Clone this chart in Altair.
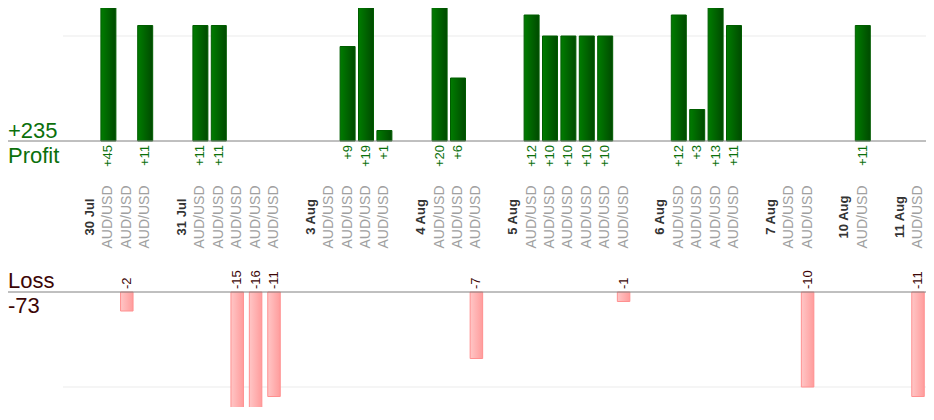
import altair as alt
import pandas as pd

# ---- data ----
days = ["30 Jul", "31 Jul", "3 Aug", "4 Aug", "5 Aug", "6 Aug", "7 Aug", "10 Aug", "11 Aug"]
day_results = [
    [45, -2, 11],
    [11, 11, -15, -16, -11],
    [0, 9, 19, 1],
    [20, 6, -7],
    [12, 10, 10, 10, 10, -1],
    [12, 3, 13, 11],
    [0, -10],
    [11],
    [-11],
]
symbol = "AUD/USD"
profit_title = "Profit"
loss_title = "Loss"

# ---- build slot table (date slot, trade slots, gap slot) ----
rows = []
for d, (day, res) in enumerate(zip(days, day_results)):
    rows.append(dict(label=day, kind="date", result=None))
    for r in res:
        rows.append(dict(label=symbol, kind="trade", result=r))
    if d < len(days) - 1:
        rows.append(dict(label="", kind="gap", result=None))
df = pd.DataFrame(rows)
df["slot"] = [f"s{i:02d}" for i in range(len(df))]
slots = list(df["slot"])

trades = df[df["kind"] == "trade"].copy()
trades["result"] = trades["result"].astype(int)
profit_df = trades[trades["result"] > 0].copy()
profit_df["txt"] = ["+" + str(v) for v in profit_df["result"]]
loss_df = trades[trades["result"] < 0].copy()
loss_df["txt"] = ["-" + str(-v) for v in loss_df["result"]]
date_df = df[df["kind"] == "date"]
sym_df = df[df["kind"] == "trade"]

profit_total = int(profit_df["result"].sum())
loss_total = int(loss_df["result"].sum())

FONT = "Liberation Sans"
GREEN_TXT = "#0b700b"
LOSS_TXT = "#3c0606"
W, H = 918, 399

x_scale = alt.Scale(domain=slots, range=[72.8, 919.2], paddingInner=0, paddingOuter=0)
profit_scale = alt.Scale(domain=[0, 10], range=[133, 28])
loss_scale = alt.Scale(domain=[-10, 0], range=[379, 284])


def X():
    return alt.X("slot:N", scale=x_scale, axis=None)


green_grad = alt.Gradient(
    gradient="linear",
    stops=[alt.GradientStop(color="#007c00", offset=0),
           alt.GradientStop(color="#004a00", offset=1)],
    x1=0, x2=1, y1=0, y2=0,
)
pink_grad = alt.Gradient(
    gradient="linear",
    stops=[alt.GradientStop(color="#ffc6c6", offset=0),
           alt.GradientStop(color="#ff9c9c", offset=1)],
    x1=0, x2=1, y1=0, y2=0,
)

grid_p = alt.Chart(pd.DataFrame({"v": [10]})).mark_rule(color="#ebebeb", strokeWidth=1).encode(
    y=alt.Y("v:Q", scale=profit_scale, axis=None), x=alt.value(55), x2=alt.value(W))
grid_l = alt.Chart(pd.DataFrame({"v": [-10]})).mark_rule(color="#ebebeb", strokeWidth=1).encode(
    y=alt.Y("v:Q", scale=loss_scale, axis=None), x=alt.value(55), x2=alt.value(W))

bars_p = alt.Chart(profit_df).mark_bar(width=15, clip=True, color=green_grad,
                                        stroke="#005c00", strokeWidth=1).encode(
    x=X(), y=alt.Y("result:Q", scale=profit_scale, axis=None))
bars_l = alt.Chart(loss_df).mark_bar(width=12.5, clip=True, color=pink_grad,
                                      stroke="#ff9090", strokeWidth=1).encode(
    x=X(), y=alt.Y("result:Q", scale=loss_scale, axis=None))

base_p = alt.Chart(pd.DataFrame({"v": [0]})).mark_rule(color="#808080", strokeWidth=1).encode(
    y=alt.Y("v:Q", scale=profit_scale, axis=None), x=alt.value(0), x2=alt.value(W))
base_l = alt.Chart(pd.DataFrame({"v": [0]})).mark_rule(color="#808080", strokeWidth=1).encode(
    y=alt.Y("v:Q", scale=loss_scale, axis=None), x=alt.value(0), x2=alt.value(W))

txt_p = alt.Chart(profit_df).mark_text(angle=270, align="right", baseline="middle",
                                        fontSize=13, font=FONT, color=GREEN_TXT).encode(
    x=X(), y=alt.value(137), text="txt:N")
txt_l = alt.Chart(loss_df).mark_text(angle=270, align="left", baseline="middle",
                                      fontSize=13, font=FONT, color=LOSS_TXT).encode(
    x=X(), y=alt.value(281), text="txt:N")

sym_txt = alt.Chart(sym_df).mark_text(angle=270, align="center", baseline="middle",
                                       fontSize=14, font=FONT, color="#a0a0a0").encode(
    x=X(), y=alt.value(209), text="label:N")
date_txt = alt.Chart(date_df).mark_text(angle=270, align="center", baseline="middle",
                                         fontSize=13, font=FONT, fontWeight="bold",
                                         color="#333333").encode(
    x=X(), y=alt.value(209), text="label:N")

one = pd.DataFrame({"a": [0]})
t_ptot = alt.Chart(one).mark_text(align="left", baseline="alphabetic", fontSize=22, font=FONT,
                                  color=GREEN_TXT).encode(
    x=alt.value(0), y=alt.value(130), text=alt.value(f"+{profit_total}"))
t_pname = alt.Chart(one).mark_text(align="left", baseline="alphabetic", fontSize=22, font=FONT,
                                   color=GREEN_TXT).encode(
    x=alt.value(0), y=alt.value(155), text=alt.value(profit_title))
t_lname = alt.Chart(one).mark_text(align="left", baseline="alphabetic", fontSize=22, font=FONT,
                                   color=LOSS_TXT).encode(
    x=alt.value(0), y=alt.value(280), text=alt.value(loss_title))
t_ltot = alt.Chart(one).mark_text(align="left", baseline="alphabetic", fontSize=22, font=FONT,
                                  color=LOSS_TXT).encode(
    x=alt.value(0), y=alt.value(305), text=alt.value(f"-{-loss_total}"))

chart = alt.layer(
    grid_p, grid_l, bars_p, bars_l, base_p, base_l,
    txt_p, txt_l, sym_txt, date_txt, t_ptot, t_pname, t_lname, t_ltot,
).resolve_scale(y="independent").properties(
    width=W, height=H, padding=0, autosize=alt.AutoSizeParams(type="none")
).configure_view(stroke=None)

chart.save("out.html", embed_options={"renderer": "svg", "actions": False})
